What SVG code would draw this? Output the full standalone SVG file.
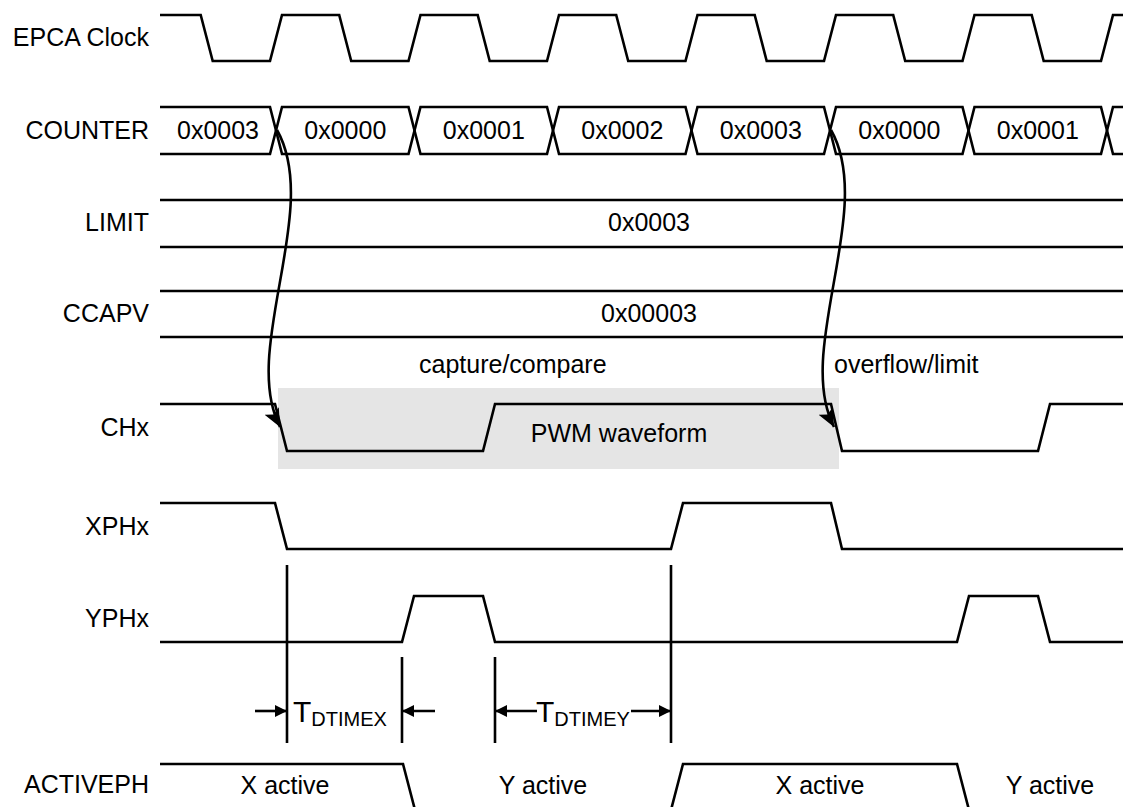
<svg xmlns="http://www.w3.org/2000/svg" width="1123" height="807" viewBox="0 0 1123 807">
<style>
  .lbl { font-family: "Liberation Sans", Arial, sans-serif; font-size: 25px; fill: #000; text-anchor: end; }
  .txt { font-family: "Liberation Sans", Arial, sans-serif; font-size: 25px; fill: #000; }
  .mid { text-anchor: middle; }
  .wave { fill: none; stroke: #000; stroke-width: 2.6; stroke-linejoin: miter; }
  .conn { fill: none; stroke: #000; stroke-width: 2.6; }
  .tick { fill: none; stroke: #000; stroke-width: 2.6; }
</style>
<defs>
  <marker id="curveHead" markerUnits="userSpaceOnUse" markerWidth="20" markerHeight="18" refX="18" refY="8" orient="auto">
    <path d="M0,0 L18,8 L0,16 L4,8 z" fill="#000"/>
  </marker>
  <marker id="dimHead" markerUnits="userSpaceOnUse" markerWidth="14" markerHeight="14" refX="12" refY="6" orient="auto">
    <path d="M0,0 L12,6 L0,12 z" fill="#000"/>
  </marker>
</defs>
<rect width="1123" height="807" fill="#fff"/>

<rect id="pwm-shade" x="278" y="388" width="561" height="81" fill="#e5e5e5"/>

<g id="sig-clock">
  <text class="lbl" x="149" y="46">EPCA Clock</text>
  <path class="wave" d="M160,15 H200.7 L212.7,61 H270 L282,15 H339.2 L351.2,61 H408.5 L420.5,15 H477.7 L489.7,61 H547 L559,15 H616.2 L628.2,61 H685.5 L697.5,15 H754.7 L766.7,61 H824 L836,15 H893.2 L905.2,61 H962.5 L974.5,15 H1031.7 L1043.7,61 H1101 L1113,15 H1123"/>
</g>

<g id="sig-counter">
  <text class="lbl" x="149" y="139">COUNTER</text>
  <path class="wave" d="M160,107 H270 L282,154 H408.5 L420.5,107 H547 L559,154 H685.5 L697.5,107 H824 L836,154 H962.5 L974.5,107 H1101 L1113,154 H1123"/>
  <path class="wave" d="M160,154 H270 L282,107 H408.5 L420.5,154 H547 L559,107 H685.5 L697.5,154 H824 L836,107 H962.5 L974.5,154 H1101 L1113,107 H1123"/>
  <text class="txt mid" x="218" y="139">0x0003</text>
  <text class="txt mid" x="345.3" y="139">0x0000</text>
  <text class="txt mid" x="483.8" y="139">0x0001</text>
  <text class="txt mid" x="622.3" y="139">0x0002</text>
  <text class="txt mid" x="760.8" y="139">0x0003</text>
  <text class="txt mid" x="899.3" y="139">0x0000</text>
  <text class="txt mid" x="1037.8" y="139">0x0001</text>
</g>

<g id="sig-limit">
  <text class="lbl" x="149" y="231">LIMIT</text>
  <path class="wave" d="M160,200 H1123 M160,247 H1123"/>
  <text class="txt mid" x="649" y="231">0x0003</text>
</g>

<g id="sig-ccapv">
  <text class="lbl" x="149" y="322">CCAPV</text>
  <path class="wave" d="M160,291 H1123 M160,337 H1123"/>
  <text class="txt mid" x="649" y="322">0x00003</text>
</g>

<g id="event-labels">
  <text class="txt" x="419" y="373">capture/compare</text>
  <text class="txt" x="834" y="373">overflow/limit</text>
</g>

<g id="sig-chx">
  <text class="lbl" x="149" y="436">CHx</text>
  <path class="wave" d="M160,404 H275 L287,451 H483 L495,404 H831 L842,451 H1038 L1050,404 H1123"/>
  <text class="txt mid" x="619" y="442">PWM waveform</text>
</g>

<g id="sig-xphx">
  <text class="lbl" x="149" y="535">XPHx</text>
  <path class="wave" d="M160,503 H275 L287,549 H671 L683,503 H831 L842,549 H1123"/>
</g>

<g id="sig-yphx">
  <text class="lbl" x="149" y="627">YPHx</text>
  <path class="wave" d="M160,642 H402 L414,596 H483 L495,642 H957 L969,596 H1038 L1050,642 H1123"/>
</g>

<g id="sig-activeph">
  <text class="lbl" x="149" y="793">ACTIVEPH</text>
  <path class="wave" d="M160,764 H403 L415,810 H671 L683,764 H957 L969,810"/>
  <text class="txt mid" x="285" y="794">X active</text>
  <text class="txt mid" x="543" y="794">Y active</text>
  <text class="txt mid" x="820" y="794">X active</text>
  <text class="txt mid" x="1050" y="794">Y active</text>
</g>

<g id="dead-time">
  <path class="tick" d="M287,565 V743 M402,657 V743 M495,657 V743 M671,565 V743"/>
  <text class="txt" x="293" y="722" style="font-size:30px">T<tspan style="font-size:20px" dy="4">DTIMEX</tspan></text>
  <text class="txt" x="536" y="722" style="font-size:30px">T<tspan style="font-size:20px" dy="4">DTIMEY</tspan></text>
</g>

<g id="connectors">
  <path class="conn" d="M277,130 C322,210 240,350 280,427" marker-end="url(#curveHead)"/>
  <path class="conn" d="M831,130 C876,210 794,350 834,427" marker-end="url(#curveHead)"/>
  <path class="conn" d="M255,711 H287" marker-end="url(#dimHead)"/>
  <path class="conn" d="M435,711 H402" marker-end="url(#dimHead)"/>
  <path class="conn" d="M537,711 H495" marker-end="url(#dimHead)"/>
  <path class="conn" d="M631,711 H671" marker-end="url(#dimHead)"/>
</g>
</svg>
